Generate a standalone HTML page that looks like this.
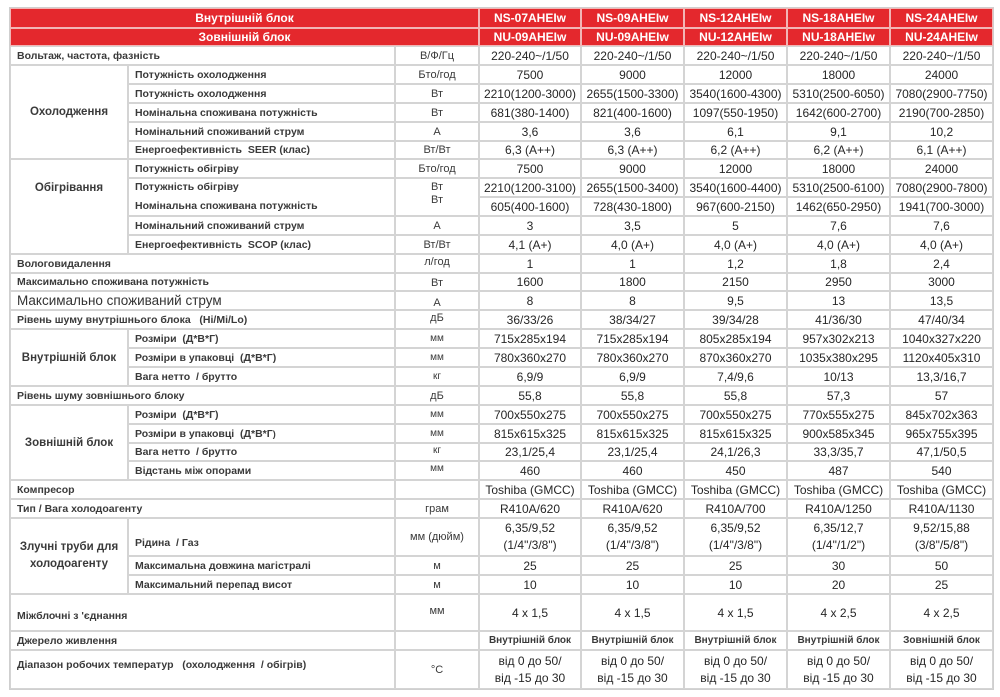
<!DOCTYPE html>
<html><head><meta charset="utf-8">
<style>
html,body{margin:0;padding:0;background:#fff;}
body{width:1000px;height:697px;position:relative;overflow:hidden;font-family:"Liberation Sans","DejaVu Sans",sans-serif;}
.g{position:absolute;left:9px;top:7px;display:grid;
grid-template-columns:118px 267px 84px 102px 103px 103px 103px 103px;
grid-template-rows:20px 18px 19px 19px 19px 19px 19px 18px 19px 19px 19px 19px 19px 19px 18px 19px 19px 19px 19px 19px 19px 19px 19px 18px 19px 19px 19px 38px 19px 19px 37px 19px 39px;
border:1px solid #cfcfcf;background:#fff;}
.g>div{box-sizing:border-box;border:1px solid #d4d4d4;display:flex;align-items:center;justify-content:center;text-align:center;white-space:nowrap;font-size:12px;color:#262626;overflow:visible;}
.g>div.h{background:#e4282d;color:#fff;font-weight:bold;border-color:#f2b5b5;font-size:12px;}
.g>div.l{justify-content:flex-start;padding-left:6px;font-weight:bold;font-size:10.5px;color:#3a3a3a;}
.g>div.u{font-size:11px;color:#3a3a3a;}
.g>div.grp{font-weight:bold;font-size:11.5px;color:#3a3a3a;}
.s2{grid-column:span 2;}
.s3{grid-column:span 3;}
.r2{grid-row:span 2;}
.r3{grid-row:span 3;}
.r4{grid-row:span 4;}
.r5{grid-row:span 5;}
.two{flex-direction:column;line-height:17px;}
.g>div.sm{font-size:10px;font-weight:bold;color:#3a3a3a;}
</style></head><body>
<div class="g">
<!-- header -->
<div class="h s3">Внутрішній блок</div><div class="h">NS-07AHEIw</div><div class="h">NS-09AHEIw</div><div class="h">NS-12AHEIw</div><div class="h">NS-18AHEIw</div><div class="h">NS-24AHEIw</div>
<div class="h s3">Зовнішній блок</div><div class="h">NU-09AHEIw</div><div class="h">NU-09AHEIw</div><div class="h">NU-12AHEIw</div><div class="h">NU-18AHEIw</div><div class="h">NU-24AHEIw</div>
<!-- voltage -->
<div class="l s2">Вольтаж, частота, фазність</div><div class="u">В/Ф/Гц</div><div>220-240~/1/50</div><div>220-240~/1/50</div><div>220-240~/1/50</div><div>220-240~/1/50</div><div>220-240~/1/50</div>
<!-- cooling -->
<div class="grp r5">Охолодження</div>
<div class="l">Потужність охолодження</div><div class="u">Бто/год</div><div>7500</div><div>9000</div><div>12000</div><div>18000</div><div>24000</div>
<div class="l">Потужність охолодження</div><div class="u">Вт</div><div>2210(1200-3000)</div><div>2655(1500-3300)</div><div>3540(1600-4300)</div><div>5310(2500-6050)</div><div>7080(2900-7750)</div>
<div class="l">Номінальна споживана потужність</div><div class="u">Вт</div><div>681(380-1400)</div><div>821(400-1600)</div><div>1097(550-1950)</div><div>1642(600-2700)</div><div>2190(700-2850)</div>
<div class="l">Номінальний споживаний струм</div><div class="u">А</div><div>3,6</div><div>3,6</div><div>6,1</div><div>9,1</div><div>10,2</div>
<div class="l">Енергоефективність&nbsp; SEER (клас)</div><div class="u">Вт/Вт</div><div>6,3 (A++)</div><div>6,3 (A++)</div><div>6,2 (A++)</div><div>6,2 (A++)</div><div>6,1 (A++)</div>
<!-- heating -->
<div class="grp r5" style="align-items:flex-start;padding-top:22px;">Обігрівання</div>
<div class="l">Потужність обігріву</div><div class="u">Бто/год</div><div>7500</div><div>9000</div><div>12000</div><div>18000</div><div>24000</div>
<div class="l r2" style="flex-direction:column;align-items:flex-start;justify-content:center;line-height:19px;"><span>Потужність обігріву</span><span>Номінальна споживана потужність</span></div>
<div class="u r2" style="flex-direction:column;justify-content:flex-start;line-height:13px;padding-top:2px;"><span>Вт</span><span>Вт</span></div>
<div>2210(1200-3100)</div><div>2655(1500-3400)</div><div>3540(1600-4400)</div><div>5310(2500-6100)</div><div>7080(2900-7800)</div>
<div>605(400-1600)</div><div>728(430-1800)</div><div>967(600-2150)</div><div>1462(650-2950)</div><div>1941(700-3000)</div>
<div class="l">Номінальний споживаний струм</div><div class="u">А</div><div>3</div><div>3,5</div><div>5</div><div>7,6</div><div>7,6</div>
<div class="l">Енергоефективність&nbsp; SCOP (клас)</div><div class="u">Вт/Вт</div><div>4,1 (A+)</div><div>4,0 (A+)</div><div>4,0 (A+)</div><div>4,0 (A+)</div><div>4,0 (A+)</div>
<!-- misc -->
<div class="l s2">Вологовидалення</div><div class="u" style="align-items:flex-start;padding-top:1px;">л/год</div><div>1</div><div>1</div><div>1,2</div><div>1,8</div><div>2,4</div>
<div class="l s2">Максимально споживана потужність</div><div class="u" style="align-items:flex-end;padding-bottom:1px;">Вт</div><div>1600</div><div>1800</div><div>2150</div><div>2950</div><div>3000</div>
<div class="l s2" style="font-weight:normal;font-size:13.5px;color:#333;">Максимально споживаний струм</div><div class="u" style="align-items:flex-end;padding-bottom:0px;">А</div><div>8</div><div>8</div><div>9,5</div><div>13</div><div>13,5</div>
<div class="l s2">Рівень шуму внутрішнього блока&nbsp;&nbsp; (Hi/Mi/Lo)</div><div class="u" style="align-items:flex-start;padding-top:1px;">дБ</div><div>36/33/26</div><div>38/34/27</div><div>39/34/28</div><div>41/36/30</div><div>47/40/34</div>
<!-- indoor unit -->
<div class="grp r3">Внутрішній блок</div>
<div class="l">Розміри&nbsp; (Д*В*Г)</div><div class="u" style="font-size:10px;">мм</div><div>715x285x194</div><div>715x285x194</div><div>805x285x194</div><div>957x302x213</div><div>1040x327x220</div>
<div class="l">Розміри в упаковці&nbsp; (Д*В*Г)</div><div class="u" style="font-size:10px;">мм</div><div>780x360x270</div><div>780x360x270</div><div>870x360x270</div><div>1035x380x295</div><div>1120x405x310</div>
<div class="l">Вага нетто&nbsp; / брутто</div><div class="u" style="font-size:10px;">кг</div><div>6,9/9</div><div>6,9/9</div><div>7,4/9,6</div><div>10/13</div><div>13,3/16,7</div>
<div class="l s2">Рівень шуму зовнішнього блоку</div><div class="u">дБ</div><div>55,8</div><div>55,8</div><div>55,8</div><div>57,3</div><div>57</div>
<!-- outdoor unit -->
<div class="grp r4">Зовнішній блок</div>
<div class="l">Розміри&nbsp; (Д*В*Г)</div><div class="u" style="font-size:10px;">мм</div><div>700x550x275</div><div>700x550x275</div><div>700x550x275</div><div>770x555x275</div><div>845x702x363</div>
<div class="l">Розміри в упаковці&nbsp; (Д*В*Г<sub style="font-size:9px;">)</sub></div><div class="u" style="font-size:10px;">мм</div><div>815x615x325</div><div>815x615x325</div><div>815x615x325</div><div>900x585x345</div><div>965x755x395</div>
<div class="l">Вага нетто&nbsp; / брутто</div><div class="u" style="font-size:10px;align-items:flex-start;padding-top:1px;">кг</div><div>23,1/25,4</div><div>23,1/25,4</div><div>24,1/26,3</div><div>33,3/35,7</div><div>47,1/50,5</div>
<div class="l">Відстань між опорами</div><div class="u" style="font-size:10px;align-items:flex-start;padding-top:1px;">мм</div><div>460</div><div>460</div><div>450</div><div>487</div><div>540</div>
<!-- compressor -->
<div class="l s2">Компресор</div><div class="u"></div><div>Toshiba (GMCC)</div><div>Toshiba (GMCC)</div><div>Toshiba (GMCC)</div><div>Toshiba (GMCC)</div><div>Toshiba (GMCC)</div>
<div class="l s2">Тип / Вага холодоагенту</div><div class="u">грам</div><div>R410A/620</div><div>R410A/620</div><div>R410A/700</div><div>R410A/1250</div><div>R410A/1130</div>
<!-- pipes -->
<div class="grp r3 two"><span>Злучні труби для</span><span>холодоагенту</span></div>
<div class="l" style="align-items:flex-end;padding-bottom:6px;">Рідина&nbsp; / Газ</div><div class="u">мм (дюйм)</div>
<div class="two"><span>6,35/9,52</span><span>(1/4"/3/8")</span></div><div class="two"><span>6,35/9,52</span><span>(1/4"/3/8")</span></div><div class="two"><span>6,35/9,52</span><span>(1/4"/3/8")</span></div><div class="two"><span>6,35/12,7</span><span>(1/4"/1/2")</span></div><div class="two"><span>9,52/15,88</span><span>(3/8"/5/8")</span></div>
<div class="l">Максимальна довжина магістралі</div><div class="u">м</div><div>25</div><div>25</div><div>25</div><div>30</div><div>50</div>
<div class="l">Максимальний перепад висот</div><div class="u">м</div><div>10</div><div>10</div><div>10</div><div>20</div><div>25</div>
<!-- connections -->
<div class="l s2" style="align-items:flex-end;padding-bottom:8px;">Міжблочні з 'єднання</div><div class="u" style="align-items:flex-start;padding-top:10px;">мм</div><div>4 x 1,5</div><div>4 x 1,5</div><div>4 x 1,5</div><div>4 x 2,5</div><div>4 x 2,5</div>
<div class="l s2">Джерело живлення</div><div class="u"></div><div class="sm">Внутрішній блок</div><div class="sm">Внутрішній блок</div><div class="sm">Внутрішній блок</div><div class="sm">Внутрішній блок</div><div class="sm">Зовнішній блок</div>
<div class="l s2" style="align-items:flex-start;padding-top:8px;">Діапазон робочих температур&nbsp;&nbsp; (охолодження&nbsp; / обігрів)</div><div class="u">°C</div>
<div class="two"><span>від 0 до 50/</span><span>від -15 до 30</span></div><div class="two"><span>від 0 до 50/</span><span>від -15 до 30</span></div><div class="two"><span>від 0 до 50/</span><span>від -15 до 30</span></div><div class="two"><span>від 0 до 50/</span><span>від -15 до 30</span></div><div class="two"><span>від 0 до 50/</span><span>від -15 до 30</span></div>
</div>
</body></html>
